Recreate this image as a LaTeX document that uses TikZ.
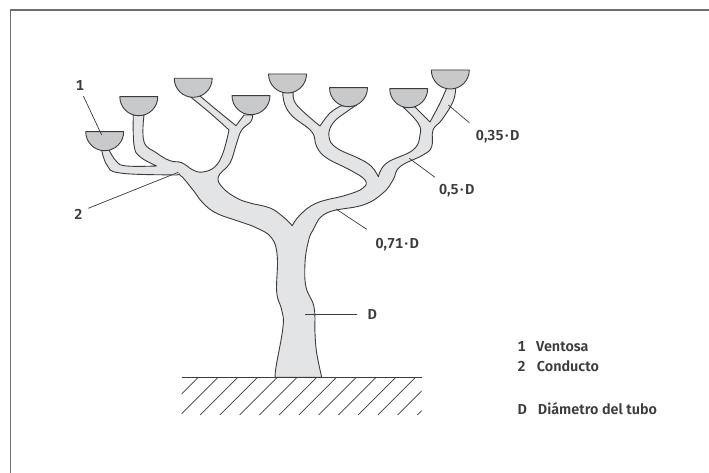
\documentclass[tikz,border=0pt]{standalone}
\usepackage{fontspec}
\setmainfont{Fira Sans}[BoldFont={Fira Sans SemiBold},Numbers={Lining,Tabular}]
\usetikzlibrary{calc}
\definecolor{body}{HTML}{E3E4E6}
\definecolor{cupc}{HTML}{C8C9CB}
\definecolor{ink}{HTML}{3C3C3E}
\definecolor{framec}{HTML}{6E6E70}
\tikzset{
  outline/.style={draw=ink,line width=0.9pt,line join=round},
  leader/.style={draw=ink,line width=0.7pt},
  lab/.style={font=\fontsize{14.4}{16}\selectfont\bfseries,text=ink,inner sep=0pt,text height=10pt,text depth=0pt},
  leg/.style={lab,anchor=west},
  cup/.style={outline,fill=cupc},
  sm/.style={smooth,tension=0.7}
}
\newcommand{\cupat}[2]{\draw[cup] (#1-19,#2) -- (#1+19,#2) arc[start angle=0,end angle=180,radius=19] -- cycle;}
\newcommand{\mdot}{\kern1.5pt·\kern1.5pt}
\begin{document}
\begin{tikzpicture}[x=1pt,y=-1pt]
\useasboundingbox (0,0) rectangle (709,473);
\fill[white] (0,0) rectangle (709,473);
% body
\draw[outline,fill=body] plot[sm] coordinates {
 (275.3,377.3) (276,367) (283,327) (281.7,310) (276.7,292) (277.3,257) (271.7,238) (256.7,228) (240,221.7) (216.7,213.3) (203,203) (193,190) (180,175) (173,175) (120,173) (107,165) (101.7,150)}
 -- plot[sm] coordinates {(109,150) (116.7,161.7) (126.7,166) (156.7,166)}
 -- plot[sm] coordinates {(156.7,166) (140,156.7) (134,145) (133.3,115)}
 -- plot[sm] coordinates {(144,115) (144,141.7) (156.7,153) (170,160.7) (181.7,162.7) (193,170) (203,172) (215,166.7) (223,153) (229,130)}
 -- plot[sm] coordinates {(229,130) (210,113) (190,96.5)}
 -- plot[sm] coordinates {(200,96) (216.7,110) (236,125.7)}
 -- (244,115) -- plot[sm] coordinates {(252.7,115) (250.7,121.7) (241.7,130) (236.7,143) (230,163) (218.3,176.7) (223,188) (236.7,198) (250,203) (270,208) (283,216.7) (292.3,225.7)}
 -- plot[sm] coordinates {(292.3,225.7) (300,215) (316.7,203) (346.7,195) (363,188) (365,180) (350,170) (326.7,158) (316.7,146.7) (311.7,131.7) (293,116.7) (285,105) (282.7,92.7)}
 -- plot[sm] coordinates {(293.3,92.7) (296.7,105) (320,126)}
 -- plot[sm] coordinates {(320,126) (330,113) (340.7,106)}
 -- plot[sm] coordinates {(356.7,105) (346.7,111.7) (333,123) (329,136.7) (336.7,148) (360,159) (371.7,166.7) (378.3,176.7)}
 -- plot[sm] coordinates {(378.3,176.7) (386.7,163) (413,150) (420,135) (418,123) (403,107)}
 -- (415,107) -- (430,122)
 -- plot[sm] coordinates {(430,122) (440,103) (446.7,88)}
 -- plot[sm] coordinates {(455.7,88) (453,101.7) (441.7,120) (433,130) (431.7,146.7) (423,155) (400,166.7) (393,180) (383,193) (363,205) (326.7,213) (313,230) (308,243) (305,263) (306,287) (314,307) (315,333) (316.7,353) (321.7,377.3)}
 -- cycle;
% cups
\cupat{104.7}{131.7}
\cupat{138.8}{96.7}
\cupat{193.2}{78.3}
\cupat{251}{95.7}
\cupat{287.5}{74}
\cupat{348.5}{87.7}
\cupat{408.7}{88.7}
\cupat{450.3}{70}
% ground
\begin{scope}
\clip (181.7,377.3) rectangle (421.7,416);
\foreach \k in {0,...,13}
  \draw[ink,line width=0.6pt] ({198.3+19.75*\k},377.3) -- ++(-37.7,37.7);
\end{scope}
\draw[ink,line width=0.9pt] (181.7,377.3) -- (421.7,377.3);
% labels
\node[lab] (n1) at (80,86) {1};
\node[lab] (n2) at (78.3,214) {2};
\node[lab] (n35) at (497.7,136) {0,35\mdot D};
\node[lab] (n5) at (456.7,189.3) {0,5\mdot D};
\node[lab] (n71) at (397.3,243.3) {0,71\mdot D};
\node[lab] (nD) at (372.3,314.3) {D};
% leader targets
\coordinate (t1) at (101.7,135);
\coordinate (t2) at (178.3,172.3);
\coordinate (t35) at (448.3,105);
\coordinate (t5) at (409.3,158.3);
\coordinate (t71) at (336,209);
\coordinate (tD) at (305,314.3);
\draw[leader] (n1) ++(3.3,10) -- (t1);
\draw[leader] (n2) ++(10,-5.7) -- (t2);
\draw[leader] (n35) ++(-28.4,-13.3) -- (t35);
\draw[leader] (n5) ++(-21.7,-12) -- (t5);
\draw[leader] (n71) ++(-30.6,-14) -- (t71);
\draw[leader] (nD) ++(-15,0) -- (tD);
% legend
\node[leg] (l1) at (517.3,346) {1};
\node[leg] (l2) at (517.3,366.7) {2};
\node[leg] (lD) at (517.3,409.5) {D};
\node[leg] (v) at (536,346) {Ventosa};
\node[leg] (c) at (536.7,366.7) {Conducto};
\node[leg] (d) at (537.7,409.5) {Diámetro del tubo};
% frame
\draw[framec,line width=1.2pt] (709,10) -- (10.7,10) -- (10.7,473);
\end{tikzpicture}
\end{document}
